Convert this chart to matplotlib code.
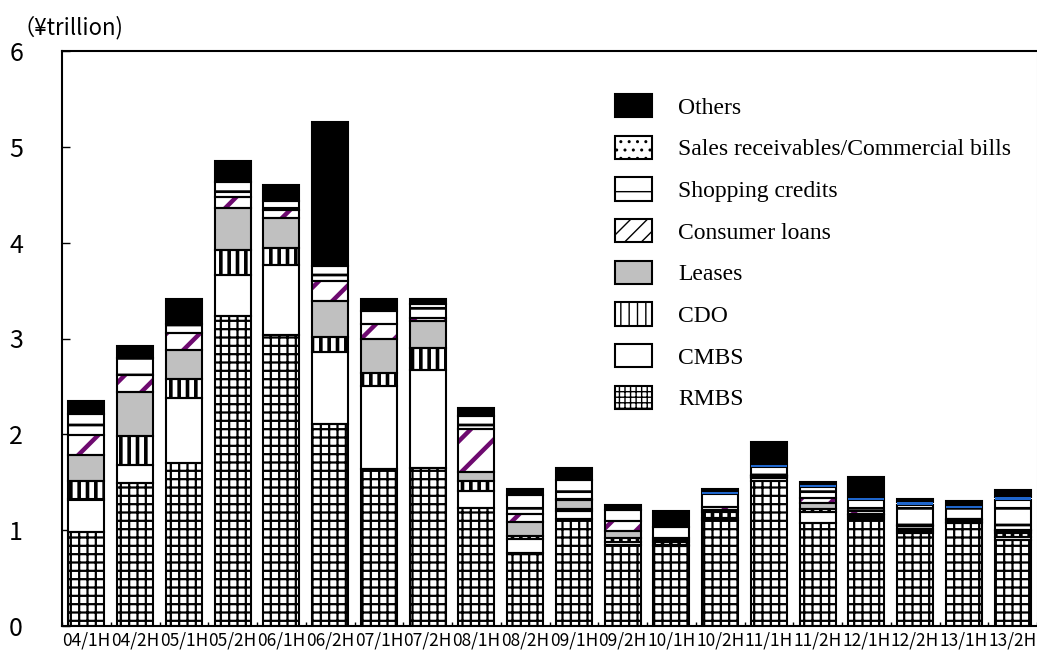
import numpy as np
import matplotlib.pyplot as plt
from matplotlib.patches import Patch

periods = ['04/1H', '04/2H', '05/1H', '05/2H', '06/1H', '06/2H', '07/1H', '07/2H',
           '08/1H', '08/2H', '09/1H', '09/2H', '10/1H', '10/2H', '11/1H', '11/2H',
           '12/1H', '12/2H', '13/1H', '13/2H']

# issuance by underlying asset, ¥ trillion (bottom to top of each bar)
rmbs      = [0.98, 1.49, 1.70, 3.24, 3.04, 2.11, 1.64, 1.65, 1.23, 0.76,
             1.12, 0.85, 0.83, 1.11, 1.51, 1.07, 1.12, 0.97, 1.07, 0.90]
cmbs      = [0.34, 0.19, 0.68, 0.42, 0.73, 0.75, 0.86, 1.02, 0.18, 0.15,
             0.08, 0.03, 0.02, 0.02, 0.03, 0.12, 0.02, 0.02, 0.02, 0.03]
cdo       = [0.19, 0.30, 0.20, 0.26, 0.17, 0.16, 0.14, 0.23, 0.10, 0.03,
             0.02, 0.04, 0.03, 0.06, 0.02, 0.03, 0.02, 0.02, 0.02, 0.04]
leases    = [0.27, 0.46, 0.30, 0.44, 0.32, 0.37, 0.35, 0.28, 0.10, 0.15,
             0.09, 0.07, 0.02, 0.02, 0.01, 0.06, 0.01, 0.03, 0.01, 0.02]
consumer  = [0.21, 0.18, 0.18, 0.12, 0.08, 0.21, 0.16, 0.03, 0.45, 0.08,
             0.02, 0.11, 0.02, 0.03, 0.01, 0.06, 0.03, 0.01, 0.00, 0.01]
shopping  = [0.22, 0.18, 0.09, 0.15, 0.10, 0.16, 0.14, 0.15, 0.13, 0.20,
             0.19, 0.11, 0.11, 0.14, 0.08, 0.11, 0.12, 0.21, 0.11, 0.31]
sales     = [0.00, 0.00, 0.00, 0.00, 0.00, 0.00, 0.00, 0.00, 0.00, 0.00,
             0.00, 0.00, 0.00, 0.02, 0.02, 0.02, 0.02, 0.03, 0.02, 0.04]
others    = [0.14, 0.12, 0.26, 0.22, 0.16, 1.50, 0.12, 0.05, 0.09, 0.06,
             0.13, 0.05, 0.17, 0.03, 0.24, 0.03, 0.21, 0.04, 0.05, 0.07]

# (values, legend label, face colour, hatch, hatch colour, hatch width)
series = [
    (rmbs, 'RMBS', 'white', '++', 'black', 1.6),
    (cmbs, 'CMBS', 'white', None, 'black', 1.0),
    (cdo, 'CDO', 'white', '||', 'black', 2.6),
    (leases, 'Leases', '#c0c0c0', None, 'black', 1.0),
    (consumer, 'Consumer loans', 'white', '/', '#6e0a70', 3.2),
    (shopping, 'Shopping credits', 'white', '-', 'black', 2.0),
    (sales, 'Sales receivables/Commercial bills', '#1f66cc', None, '#1f66cc', 1.0),
    (others, 'Others', 'black', None, 'black', 1.0),
]
# legend swatches: (hatch, hatch width)
legend_hatch = {
    'RMBS': ('+++', 1.0),
    'CDO': ('||', 1.2),
    'Consumer loans': ('//', 2.6),
    'Shopping credits': ('-', 2.0),
    'Sales receivables/Commercial bills': ('..', 1.0),
}

fig = plt.figure(figsize=(10.37, 6.54), dpi=100)
ax = fig.add_axes([62 / 1037, 1 - 626 / 654, 975 / 1037, 575 / 654])

x = np.arange(len(periods))
w = 0.74
bottom = np.zeros(len(periods))
for vals, label, face, hatch, hcol, hlw in series:
    vals = np.array(vals)
    with plt.rc_context({'hatch.linewidth': hlw}):
        bars = ax.bar(x, vals, w, bottom=bottom, color=face, hatch=hatch,
                      edgecolor=hcol, linewidth=0,
                      zorder=4 if label.startswith('Sales') else 2)
        for b in bars:
            if hasattr(b, 'set_hatch_linewidth'):
                b.set_hatch_linewidth(hlw)
    if not label.startswith('Sales'):
        ax.bar(x, vals, w, bottom=bottom, fill=False, edgecolor='black',
               linewidth=1.5, zorder=3)
    bottom += vals

handles = []
for vals, label, face, hatch, hcol, hlw in reversed(series):
    if label.startswith('Sales'):
        face = 'white'
    h, lw = legend_hatch.get(label, (None, 1.0))
    with plt.rc_context({'hatch.linewidth': lw}):
        p = Patch(facecolor=face, edgecolor='black', hatch=h,
                  linewidth=1.5, label=label)
    if hasattr(p, 'set_hatch_linewidth'):
        p.set_hatch_linewidth(lw)
    handles.append(p)
leg = ax.legend(handles=handles, loc='upper left',
                bbox_to_anchor=(615 / 1037, 1 - 94 / 654),
                bbox_transform=fig.transFigure, frameon=False,
                prop={'family': 'Liberation Serif', 'size': 17},
                handlelength=1.57, handleheight=1.14, labelspacing=0.72,
                handletextpad=1.1, borderpad=0, borderaxespad=0)

ax.set_xlim(-0.5, len(periods) - 0.5)
ax.set_ylim(0, 6)
ax.set_yticks(range(7))
ax.set_xticks(x)
ax.set_xticklabels(periods, family='Noto Sans CJK JP', fontsize=12.5)
ax.set_xticks(np.arange(len(periods) + 1) - 0.5, minor=True)
ax.tick_params(axis='x', which='major', length=0, pad=4)
ax.tick_params(axis='x', which='minor', direction='in', length=3, width=1)
ax.tick_params(axis='y', direction='in', length=6, width=1, pad=28, labelsize=18)
for lbl in ax.get_yticklabels():
    lbl.set_family('Noto Sans CJK JP')

for side in ['left', 'bottom', 'top']:
    ax.spines[side].set_linewidth(1.5)
ax.spines['right'].set_color('#cccccc')

fig.text(12 / 1037, 1 - 28 / 654, '（¥trillion)', family='Noto Sans CJK JP',
         fontsize=16, va='center', ha='left')

fig.savefig('out.png', dpi=100)
